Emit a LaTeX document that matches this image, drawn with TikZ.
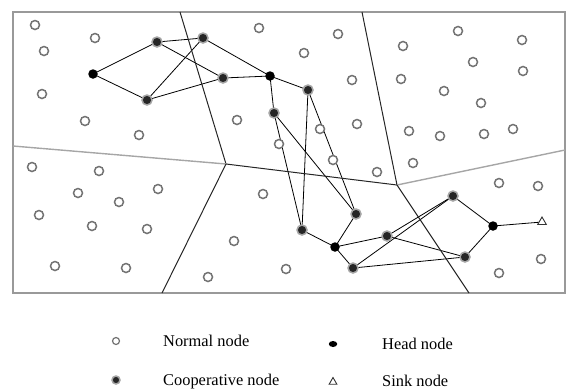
\documentclass[tikz,border=0pt]{standalone}
\usepackage{fontspec}
\setmainfont{Liberation Serif}
\usetikzlibrary{shapes.geometric}
\pgfdeclarelayer{bg}
\pgfsetlayers{bg,main}
\tikzset{
  normal/.style={circle,draw=black!55,line width=1.5pt,fill=white,minimum size=9pt,inner sep=0pt},
  coop/.style={circle,draw=gray!70,line width=1.5pt,fill=black!85,minimum size=10pt,inner sep=0pt},
  head/.style={circle,fill=black,minimum size=9.5pt,inner sep=0pt},
  sinknode/.style={regular polygon,regular polygon sides=3,draw=black!80,line width=0.9pt,fill=white,minimum size=10pt,inner sep=0pt},
  link/.style={draw=black,line width=0.8pt},
  part/.style={draw=black!85,line width=1pt},
  partgray/.style={draw=gray!70,line width=1.4pt},
  frame/.style={draw=gray!80,line width=1.5pt},
  legtext/.style={anchor=base west,inner sep=0pt,font=\fontsize{16.4}{18}\selectfont}
}
\begin{document}
\begin{tikzpicture}[x=1pt,y=-1pt]
\useasboundingbox (0,0) rectangle (569,389);
% frame and partition
\draw[frame] (13,12) rectangle (565,293);
\coordinate (A) at (226,164);
\coordinate (B) at (397,185);
\draw[part] (180,12) -- (A);
\draw[partgray] (13,146) -- (A);
\draw[part] (A) -- (162,293);
\draw[part] (A) -- (B);
\draw[part] (362,12) -- (B);
\draw[partgray] (B) -- (565,150);
\draw[part] (B) -- (469,293);
% normal nodes
\foreach \x/\y [count=\i] in {35/25,95/38,44/51,42/94,85/121,139/135,
  259/28,338/34,304/53,352/80,237/120,320/129,357/124,279/144,
  458/31,403/46,522/40,473/62,523/71,401/79,444/91,481/103,409/131,440/136,484/134,513/129,
  32/167,99/171,78/193,158/189,119/202,39/215,92/226,147/229,55/266,126/268,
  333/160,377/172,263/194,234/241,286/269,208/277,
  413/163,499/183,538/186,541/259,499/273}
  \node[normal] (n\i) at (\x,\y) {};
% head nodes
\node[head] (h1) at (93,74) {};
\node[head] (h2) at (270,76) {};
\node[head] (h3) at (335,247) {};
\node[head] (h4) at (493,226) {};
% cooperative nodes
\node[coop] (c1) at (157,42) {};
\node[coop] (c2) at (203,38) {};
\node[coop] (c3) at (223,78) {};
\node[coop] (c4) at (147,100) {};
\node[coop] (c5) at (308,90) {};
\node[coop] (c6) at (274,113) {};
\node[coop] (c7) at (356,214) {};
\node[coop] (c8) at (302,230) {};
\node[coop] (c9) at (387,236) {};
\node[coop] (c10) at (353,268) {};
\node[coop] (c11) at (453,196) {};
\node[coop] (c12) at (465,257) {};
\node[sinknode] (s) at (542,222) {};
% links
\begin{pgfonlayer}{bg}
\foreach \a/\b in {h1/c1,h1/c4,c1/c2,c1/c3,c4/c2,c4/c3,c2/h2,c3/h2,h2/c5,h2/c6,
  c5/c8,c5/c7,c6/c8,c6/c7,c8/h3,c7/h3,h3/c9,h3/c10,c11/c9,c11/c10,c9/c12,c10/c12,
  c11/h4,c12/h4,h4/s}
  \draw[link] (\a.center) -- (\b.center);
\end{pgfonlayer}
% legend
\node[normal,minimum size=7pt,line width=1.2pt] (ln) at (116,341) {};
\node[coop,minimum size=8pt] (lc) at (116,380) {};
\node[head,ellipse,minimum width=8.5pt,minimum height=6pt] (lh) at (333,344) {};
\node[sinknode,minimum size=9pt] (ls) at (333,382) {};
\node[legtext] (tn) at (163,346) {Normal node};
\node[legtext] (tc) at (163,385) {Cooperative node};
\node[legtext] (th) at (382,349) {Head node};
\node[legtext] (ts) at (382,386) {Sink node};
\end{tikzpicture}
\end{document}
